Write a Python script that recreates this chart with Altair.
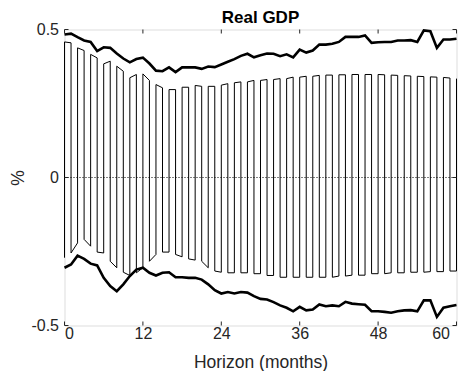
import altair as alt
import pandas as pd

months = list(range(61))

upper_thick = [0.483, 0.486, 0.474, 0.463, 0.458, 0.427, 0.440, 0.438, 0.419, 0.402,
               0.389, 0.400, 0.405, 0.385, 0.361, 0.359, 0.372, 0.356, 0.372, 0.372,
               0.372, 0.367, 0.375, 0.373, 0.382, 0.391, 0.400, 0.411, 0.418, 0.406,
               0.413, 0.419, 0.418, 0.410, 0.416, 0.406, 0.432, 0.422, 0.429, 0.449,
               0.449, 0.452, 0.458, 0.475, 0.475, 0.475, 0.480, 0.455, 0.457, 0.458,
               0.458, 0.463, 0.463, 0.464, 0.458, 0.497, 0.494, 0.438, 0.466, 0.466,
               0.469]

lower_thick = [-0.305, -0.294, -0.264, -0.275, -0.291, -0.297, -0.339, -0.367, -0.384, -0.361,
               -0.333, -0.311, -0.305, -0.322, -0.331, -0.322, -0.320, -0.337, -0.337, -0.339,
               -0.339, -0.345, -0.361, -0.381, -0.392, -0.387, -0.392, -0.387, -0.389, -0.401,
               -0.410, -0.412, -0.421, -0.432, -0.440, -0.452, -0.437, -0.449, -0.446, -0.429,
               -0.435, -0.432, -0.435, -0.420, -0.426, -0.428, -0.430, -0.452, -0.452, -0.454,
               -0.457, -0.452, -0.449, -0.448, -0.452, -0.415, -0.415, -0.471, -0.440, -0.435,
               -0.431]

upper_band = [0.458, 0.455, 0.438, 0.429, 0.416, 0.404, 0.384, 0.393, 0.376, 0.359,
              0.337, 0.348, 0.350, 0.328, 0.314, 0.303, 0.297, 0.297, 0.305, 0.305,
              0.311, 0.308, 0.308, 0.308, 0.312, 0.317, 0.320, 0.323, 0.323, 0.328,
              0.328, 0.331, 0.331, 0.334, 0.334, 0.339, 0.339, 0.342, 0.342, 0.345,
              0.346, 0.346, 0.347, 0.347, 0.348, 0.348, 0.348, 0.348, 0.348, 0.347,
              0.346, 0.345, 0.344, 0.343, 0.342, 0.341, 0.340, 0.339, 0.338, 0.336,
              0.334]

lower_band = [-0.271, -0.255, -0.221, -0.209, -0.232, -0.252, -0.255, -0.283, -0.305, -0.320,
              -0.331, -0.322, -0.305, -0.283, -0.260, -0.252, -0.252, -0.260, -0.268, -0.275,
              -0.279, -0.283, -0.305, -0.316, -0.320, -0.322, -0.322, -0.322, -0.322, -0.325,
              -0.325, -0.331, -0.331, -0.337, -0.337, -0.337, -0.337, -0.337, -0.337, -0.337,
              -0.337, -0.337, -0.333, -0.333, -0.330, -0.330, -0.330, -0.325, -0.325, -0.325,
              -0.322, -0.322, -0.322, -0.320, -0.320, -0.320, -0.318, -0.318, -0.318, -0.316,
              -0.316]

x_ticks = [0, 12, 24, 36, 48, 60]
y_ticks = [-0.5, 0, 0.5]

W, H = 392, 296
AX = "#262626"
FONT = "Liberation Sans"

# serpentine band (one vertical stroke per month)
rows = []
k = 0
for m, u, l in zip(months, upper_band, lower_band):
    pair = (l, u) if m % 2 == 0 else (u, l)
    for v in pair:
        rows.append({"m": m, "v": v, "o": k})
        k += 1
band_df = pd.DataFrame(rows)

lines_df = pd.DataFrame({"m": months, "up": upper_thick, "lo": lower_thick})
zero_df = pd.DataFrame({"m": [0, 60], "v": [0, 0]})

xscale = alt.Scale(domain=[0, 60], nice=False, zero=False)
yscale = alt.Scale(domain=[-0.5, 0.5], nice=False, zero=False)

xaxis = alt.Axis(values=x_ticks, ticks=False, domain=False, grid=False,
                 labelFontSize=16, labelFont=FONT, labelColor=AX, labelPadding=0,
                 labelOffset={"condition": {"test": "datum.value == 60", "value": -7}, "value": 0},
                 title="Horizon (months)", titleFontSize=17.5, titleFont=FONT,
                 titleFontWeight="normal", titleColor=AX, titlePadding=11.5)
yaxis = alt.Axis(values=y_ticks, ticks=False, domain=False, grid=False,
                 labelFontSize=16, labelFont=FONT, labelColor=AX, labelPadding=6,
                 labelExpr="'' + datum.value",
                 title="%", titleFontSize=17.5, titleFont=FONT,
                 titleFontWeight="normal", titleColor=AX, titlePadding=3)

band = alt.Chart(band_df).mark_line(color="black", strokeWidth=1).encode(
    x=alt.X("m:Q", scale=xscale, axis=xaxis),
    y=alt.Y("v:Q", scale=yscale, axis=yaxis),
    order="o:Q",
)

zero = alt.Chart(zero_df).mark_line(color="black", strokeWidth=1, strokeDash=[1, 2]).encode(
    x=alt.X("m:Q", scale=xscale), y=alt.Y("v:Q", scale=yscale)
)

up = alt.Chart(lines_df).mark_line(color="black", strokeWidth=2.6).encode(
    x=alt.X("m:Q", scale=xscale), y=alt.Y("up:Q", scale=yscale)
)
lo = alt.Chart(lines_df).mark_line(color="black", strokeWidth=2.6).encode(
    x=alt.X("m:Q", scale=xscale), y=alt.Y("lo:Q", scale=yscale)
)

xt_df = pd.DataFrame({"t": x_ticks})
yt_df = pd.DataFrame({"t": y_ticks})
tick_b = alt.Chart(xt_df).mark_rule(color=AX, strokeWidth=1).encode(
    x=alt.X("t:Q", scale=xscale), y=alt.value(H), y2=alt.value(H - 4))
tick_t = alt.Chart(xt_df).mark_rule(color=AX, strokeWidth=1).encode(
    x=alt.X("t:Q", scale=xscale), y=alt.value(0), y2=alt.value(4))
tick_l = alt.Chart(yt_df).mark_rule(color=AX, strokeWidth=1).encode(
    y=alt.Y("t:Q", scale=yscale), x=alt.value(0), x2=alt.value(4))
tick_r = alt.Chart(yt_df).mark_rule(color=AX, strokeWidth=1).encode(
    y=alt.Y("t:Q", scale=yscale), x=alt.value(W), x2=alt.value(W - 4))

chart = alt.layer(band, zero, up, lo, tick_b, tick_t, tick_l, tick_r).properties(
    width=W, height=H,
    title=alt.TitleParams("Real GDP", fontSize=17, fontWeight="bold", font=FONT,
                          color="black", offset=-5.7),
    autosize=alt.AutoSizeParams(type="none"),
    padding={"left": 56.5, "top": 21.5, "right": 2.5, "bottom": 45},
).configure_view(stroke=AX, strokeWidth=1).configure(background="white")

chart.save("out.html", embed_options={"renderer": "svg", "actions": False})
